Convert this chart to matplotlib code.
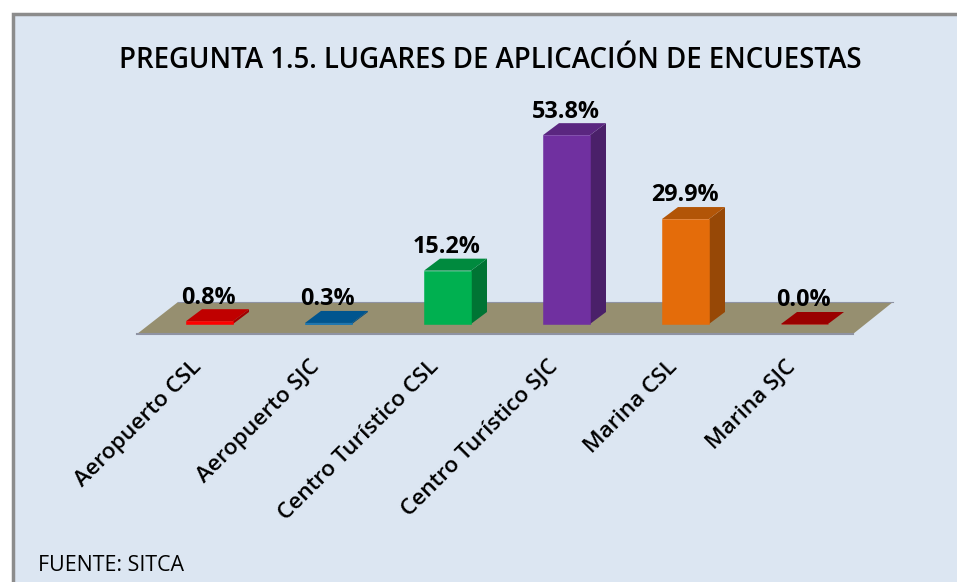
import matplotlib
matplotlib.use("Agg")
import matplotlib.pyplot as plt
from matplotlib.patches import Polygon, Rectangle
from matplotlib.transforms import ScaledTranslation

categorias = ["Aeropuerto CSL", "Aeropuerto SJC", "Centro Turístico CSL",
              "Centro Turístico SJC", "Marina CSL", "Marina SJC"]
valores = [0.8, 0.3, 15.2, 53.8, 29.9, 0.0]
etiquetas = ["0.8%", "0.3%", "15.2%", "53.8%", "29.9%", "0.0%"]
frente = ["#FF0000", "#0070C0", "#00B050", "#7030A0", "#E46C0A", "#C00000"]
lado = ["#A00000", "#004A80", "#007434", "#4A2069", "#974806", "#800000"]
arriba = ["#C00000", "#00558F", "#008A3E", "#5A2680", "#B25507", "#9A0000"]

W, H = 957, 582
PX_X = 119.0   # pixeles por categoria
PX_Y = 3.51    # pixeles por punto porcentual
X0, Y0 = 209.5, 324

plt.rcParams["font.family"] = ["Open Sans", "DejaVu Sans"]
fig = plt.figure(figsize=(W / 100, H / 100), dpi=100, facecolor="white")

# Fondo del panel
fig.add_artist(Rectangle((12.5 / W, -0.01), 1.0, 1 - 13.5 / H + 0.01, transform=fig.transFigure,
                         facecolor="#DCE6F2", edgecolor="#8C8C8C", linewidth=2.5, zorder=-1))

# Ejes: y=0 en la base de las barras, el borde inferior en el frente del piso
base = 334
ax = fig.add_axes([0, (H - base) / H, 1, base / H])
ax.patch.set_visible(False)
ax.set_xlim(-X0 / PX_X, (W - X0) / PX_X)
ax.set_ylim(-(base - Y0) / PX_Y, Y0 / PX_Y)

ancho = 47 / PX_X
dx = 16 / PX_X
dy = 12 / PX_Y

# Piso
y_f = -(base - Y0) / PX_Y
y_b = (Y0 - 302) / PX_Y
piso = [((137 - X0) / PX_X, y_f), ((853 - X0) / PX_X, y_f),
        ((893 - X0) / PX_X, y_b), ((178 - X0) / PX_X, y_b)]
ax.add_patch(Polygon(piso, closed=True, facecolor="#968F70", edgecolor="none", clip_on=False, zorder=1))
ax.plot([piso[0][0], piso[1][0]], [y_f, y_f], color="#8F93A3", lw=1.5, clip_on=False, zorder=1.1)
ax.plot([piso[3][0], piso[2][0]], [y_b, y_b], color="#8F93A3", lw=0.8, clip_on=False, zorder=1.1)

# Barras con perspectiva
for i, v in enumerate(valores):
    x1 = i - ancho / 2
    x2 = i + ancho / 2
    ax.add_patch(Polygon([(x2, 0), (x2 + dx, dy), (x2 + dx, v + dy), (x2, v)], facecolor=lado[i], edgecolor="none", zorder=2))
    ax.add_patch(Polygon([(x1, v), (x2, v), (x2 + dx, v + dy), (x1 + dx, v + dy)], facecolor=arriba[i], edgecolor="none", zorder=2))
    ax.add_patch(Rectangle((x1, 0), ancho, v, facecolor=frente[i], edgecolor=frente[i], linewidth=0.4, zorder=2))
    ax.annotate(etiquetas[i], (i - 0.005, v + dy), xytext=(0, 4), textcoords="offset points",
                ha="center", va="baseline", fontsize=16.8, fontweight="bold", color="black", zorder=3)

ax.set_xticks(range(len(categorias)))
ax.set_xticklabels(categorias, rotation=45, ha="right", rotation_mode="anchor",
                   fontsize=16.2, fontweight="semibold")
ax.tick_params(axis="x", length=0, pad=16)
corrimiento = ScaledTranslation(-19 / 100, 0, fig.dpi_scale_trans)
for lab in ax.get_xticklabels():
    lab.set_transform(lab.get_transform() + corrimiento)
ax.set_yticks([])
for s in ax.spines.values():
    s.set_visible(False)

fig.text(490 / W, 1 - 68 / H, "PREGUNTA 1.5. LUGARES DE APLICACIÓN DE ENCUESTAS",
         ha="center", va="baseline", fontsize=19.9, fontweight="semibold", color="black")
fig.text(38 / W, 1 - 571 / H, "FUENTE: SITCA", ha="left", va="baseline", fontsize=15.4, color="black")

fig.savefig("out.png", dpi=100, facecolor="white")
